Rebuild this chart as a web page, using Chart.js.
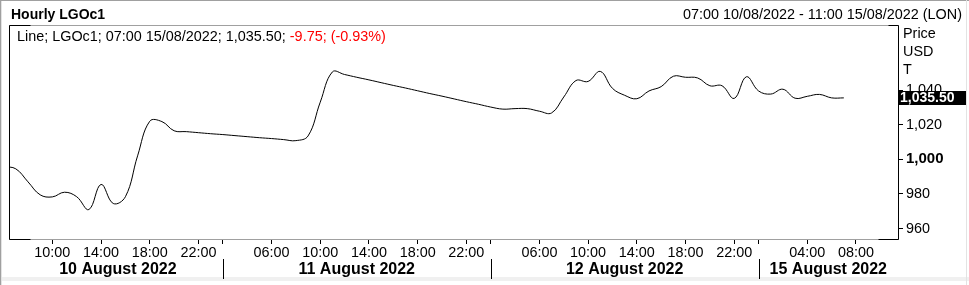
<!DOCTYPE html>
<html><head><meta charset="utf-8">
<script src="https://cdn.jsdelivr.net/npm/chart.js@4"></script>
<style>html,body{margin:0;padding:0;background:#fff;overflow:hidden}#wrap{position:relative;width:969px;height:285px}</style>
</head><body><div id="wrap"><canvas id="c" width="969" height="285"></canvas></div>
<script>
const FONT = "'Liberation Sans', Arial, sans-serif";

// ---- data ----
const days = ["10 August 2022", "11 August 2022", "12 August 2022", "15 August 2022"];
const dayFirstHour = [6, 2, 2, 0];
const dayLastHour = [23, 23, 23, 11];
const shownHours = [
  ["10:00", "14:00", "18:00", "22:00"],
  ["06:00", "10:00", "14:00", "18:00", "22:00"],
  ["06:00", "10:00", "14:00", "18:00", "22:00"],
  ["04:00", "08:00"]
];
// hourly closes, from 06:00 10/08 to 07:00 15/08
const prices = [
  995.8, 994.5, 987.0, 979.5, 978.3, 981.0, 978.4, 971.0, 985.5, 974.5,
  978.4, 1002.0, 1022.0, 1021.8, 1016.5, 1016.0, 1015.4, 1014.8,
  1014.3, 1013.7, 1013.1, 1012.5, 1012.0, 1011.4, 1010.8, 1013.5, 1033.0, 1050.5,
  1049.0, 1047.4, 1045.9, 1044.3, 1042.7, 1041.2, 1039.6, 1038.0, 1036.5, 1034.9,
  1033.3, 1031.8,
  1030.2, 1029.0, 1029.3, 1029.3, 1027.8, 1026.8, 1036.0, 1045.5, 1045.0, 1050.8,
  1041.0, 1037.0, 1035.0, 1039.5, 1042.0, 1048.0, 1047.4, 1047.0, 1042.5, 1042.5,
  1035.2, 1047.7,
  1039.5, 1037.7, 1040.5, 1035.3, 1036.4, 1037.5, 1035.5, 1035.5
];
const yTicks = [960, 980, 1000, 1020, 1040];
const yMin = 953.4, yMax = 1077.6;
const lastPrice = 1035.50, netChange = -9.75, pctChange = -0.93;
const titleText = "Hourly LGOc1";
const rangeText = "07:00 10/08/2022 - 11:00 15/08/2022 (LON)";
const unitLines = ["Price", "USD", "T"];

// ---- build bar index ----
const bars = [];
days.forEach((d, di) => {
  for (let h = dayFirstHour[di]; h <= dayLastHour[di]; h++) {
    bars.push({ day: di, hour: String(h).padStart(2, '0') + ':00' });
  }
});
const tickText = {};
const dayStarts = [];
bars.forEach((b, i) => {
  if (i > 0 && bars[i - 1].day !== b.day) { dayStarts.push(i); tickText[i] = ''; }
  else if (shownHours[b.day].includes(b.hour)) tickText[i] = b.hour;
});
const tickVals = Object.keys(tickText).map(Number).sort((a, b) => a - b);
const fmt = v => v.toLocaleString('en-US', { minimumFractionDigits: 2, maximumFractionDigits: 2 });
const NS = 14.4;

const deco = {
  id: 'deco',
  beforeDraw(chart) {
    const c = chart.ctx;
    c.save();
    c.fillStyle = '#fff'; c.fillRect(0, 0, 969, 285);
    c.fillStyle = '#f0f0f0'; c.fillRect(0, 277, 969, 4);
    c.fillStyle = '#a0a0a0'; c.fillRect(0, 0, 969, 1); c.fillRect(0, 0, 1, 285);
    c.fillStyle = '#e3e3e3'; c.fillRect(1, 1, 1, 284); c.fillRect(966, 0, 1, 285);
    c.restore();
  },
  afterDraw(chart) {
    const c = chart.ctx, a = chart.chartArea, xs = chart.scales.x, ys = chart.scales.y;
    c.save();
    // plot frame
    const L = Math.floor(a.left) + 0.5, R = Math.floor(a.right) + 0.5, T = Math.floor(a.top) + 0.5, B = Math.floor(a.bottom) - 0.5;
    c.lineWidth = 1;
    c.strokeStyle = '#a0a0a0';
    c.beginPath(); c.moveTo(L, T); c.lineTo(R, T); c.moveTo(L, B); c.lineTo(R, B); c.stroke();
    c.strokeStyle = '#000';
    c.beginPath();
    c.moveTo(L, T); c.lineTo(L, B); c.moveTo(R, T); c.lineTo(R, B);
    c.moveTo(L, T); c.lineTo(L + 21, T); c.moveTo(L, B); c.lineTo(L + 21, B);
    c.moveTo(R - 10, T); c.lineTo(R, T); c.moveTo(R - 20, B); c.lineTo(R, B);
    c.stroke();
    // day separators and labels
    const bounds = [a.left, ...dayStarts.map(i => xs.getPixelForValue(i)), a.right];
    c.beginPath();
    dayStarts.forEach(i => { const x = Math.round(xs.getPixelForValue(i)) + 0.5; c.moveTo(x, 259); c.lineTo(x, 279); });
    c.stroke();
    c.fillStyle = '#000';
    c.font = 'bold 16px ' + FONT;
    c.textAlign = 'center'; c.textBaseline = 'alphabetic';
    days.forEach((d, i) => c.fillText(d, (bounds[i] + bounds[i + 1]) / 2 + (i === 0 ? 2 : 0), 274));
    // title
    c.textAlign = 'left';
    c.font = 'bold 14px ' + FONT;
    c.fillText(titleText, 11, 18.5);
    c.font = NS + 'px ' + FONT;
    c.textAlign = 'right';
    c.fillText(rangeText, 962, 18.5);
    // legend line
    c.textAlign = 'left';
    const p1 = 'Line; LGOc1; 07:00 15/08/2022; ' + fmt(lastPrice) + '; ';
    const p2 = netChange.toFixed(2) + '; (' + pctChange.toFixed(2) + '%)';
    c.fillStyle = '#000'; c.fillText(p1, 17, 40.5);
    const w = c.measureText(p1).width;
    c.fillStyle = '#ff0000'; c.fillText(p2, 17 + w, 40.5);
    // unit labels
    c.fillStyle = '#000';
    unitLines.forEach((t, i) => c.fillText(t, 903, 37.5 + i * 18));
    // last value box
    const yv = ys.getPixelForValue(lastPrice);
    c.fillStyle = '#000';
    c.fillRect(899, Math.round(yv) - 7, 67, 14);
    c.fillStyle = '#fff';
    c.font = 'bold 14px ' + FONT;
    c.textBaseline = 'middle';
    c.fillText(fmt(lastPrice), 900, Math.round(yv) + 0.5);
    c.restore();
  }
};

new Chart(document.getElementById('c'), {
  type: 'line',
  data: {
    datasets: [{
      data: prices.map((v, i) => ({ x: i, y: v })),
      borderColor: '#000', borderWidth: 1, pointRadius: 0, tension: 0.4, fill: false
    }]
  },
  options: {
    responsive: false, animation: false, devicePixelRatio: 1,
    layout: { padding: { left: 9, top: 25, right: 0, bottom: 0 } },
    plugins: { legend: { display: false }, tooltip: { enabled: false }, title: { display: false } },
    scales: {
      x: {
        type: 'linear', min: 0.44, max: 73.45, position: 'bottom',
        afterFit(s) { s.height = 45; },
        afterBuildTicks(s) { s.ticks = tickVals.map(v => ({ value: v })); },
        ticks: {
          autoSkip: false, maxRotation: 0, minRotation: 0, padding: 0, color: '#000',
          font: { family: FONT, size: NS },
          callback: v => tickText[v] ?? ''
        },
        grid: { drawOnChartArea: false, drawTicks: true, tickLength: 4, color: '#000', lineWidth: 1 },
        border: { display: false }
      },
      y: {
        type: 'linear', position: 'right', min: yMin, max: yMax,
        afterFit(s) { s.width = 71; },
        afterBuildTicks(s) { s.ticks = yTicks.map(v => ({ value: v })); },
        ticks: {
          padding: 3, color: '#000',
          font: c => (c.tick && c.tick.value === 1000) ? { family: FONT, size: 15, weight: 'bold' } : { family: FONT, size: NS },
          callback: v => v.toLocaleString('en-US')
        },
        grid: { drawOnChartArea: false, drawTicks: true, tickLength: 5, color: '#000' },
        border: { display: false }
      }
    }
  },
  plugins: [deco]
});
</script></body></html>
